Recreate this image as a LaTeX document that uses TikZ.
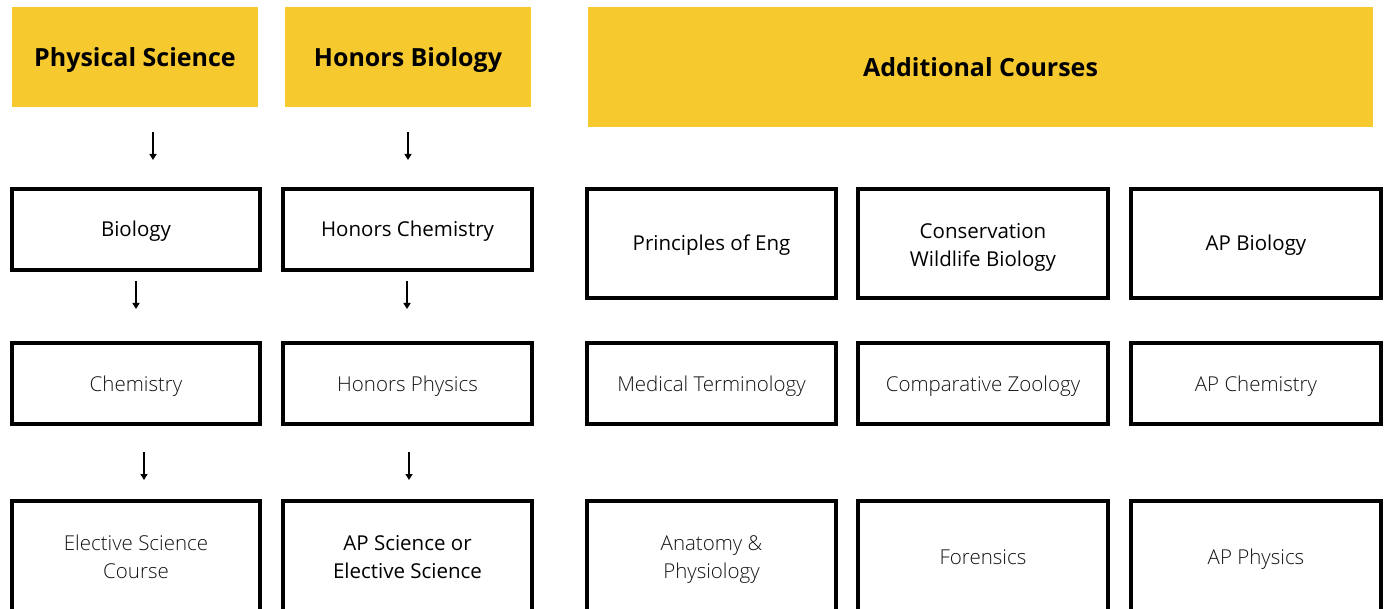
\documentclass[tikz,border=0pt]{standalone}
\usepackage{fontspec}
\setmainfont{Open Sans}
\newfontfamily\lightfont{Open Sans Light}
\usetikzlibrary{arrows.meta}
\definecolor{hdr}{RGB}{246,202,47}
\newcommand\bodystrut{\rule[-6pt]{0pt}{27pt}}
\newcommand\tallstrut{\rule[-6pt]{0pt}{30pt}}
\newcommand\lowstrut{\rule[-6pt]{0pt}{28pt}}
\newcommand\hdrstrut{\rule[-7pt]{0pt}{33pt}}
\tikzset{
  hdrbox/.style={fill=hdr, draw=none, inner sep=0pt, font=\fontsize{25}{30}\selectfont\bfseries,
    execute at begin node=\hdrstrut},
  crs/.style={draw=black, line width=4pt, fill=white, inner sep=0pt, align=center,
    font=\fontsize{20.5}{28.5}\selectfont,
    execute at begin node=\bodystrut, execute at end node=\bodystrut},
  lt/.style={font=\fontsize{20.5}{28.5}\selectfont\lightfont, text=black!92},
  arr/.style={line width=2pt, -{Triangle[width=7pt,length=6pt]}},
}
\begin{document}
\begin{tikzpicture}[x=1pt, y=-1pt]
\useasboundingbox (0,0) rectangle (1386,609);
% headers
\node[hdrbox, minimum width=246pt, minimum height=100pt] (ps) at (135,57) {Physical Science};
\node[hdrbox, minimum width=246pt, minimum height=100pt] (hb) at (408,57) {Honors Biology};
\node[hdrbox, minimum width=785pt, minimum height=120pt] (ac) at (980.5,67) {Additional Courses};
% left column 1
\node[crs, minimum width=248pt, minimum height=81pt] (bio) at (136,229.5) {Biology};
\node[crs, lt, minimum width=248pt, minimum height=81pt] (chem) at (136,383.5) {Chemistry};
\node[crs, lt, minimum width=248pt, minimum height=111pt] (elec) at (136,556.5) {\lowstrut Elective Science\\Course};
% left column 2
\node[crs, minimum width=249pt, minimum height=81pt] (hchem) at (407.5,229.5) {Honors Chemistry};
\node[crs, lt, minimum width=249pt, minimum height=81pt] (hphys) at (407.5,383.5) {Honors Physics};
\node[crs, minimum width=249pt, minimum height=111pt] (apsci) at (407.5,556.5) {\lowstrut AP Science or\\Elective Science};
% additional courses
\node[crs, minimum width=249pt, minimum height=109pt] (eng) at (711.5,243.5) {Principles of Eng};
\node[crs, minimum width=250pt, minimum height=109pt] (cons) at (983,243.5) {\tallstrut Conservation\\Wildlife Biology};
\node[crs, minimum width=250pt, minimum height=109pt] (apbio) at (1256,243.5) {AP Biology};
\node[crs, lt, minimum width=249pt, minimum height=81pt] (med) at (711.5,383.5) {Medical Terminology};
\node[crs, lt, minimum width=250pt, minimum height=81pt] (zoo) at (983,383.5) {Comparative Zoology};
\node[crs, lt, minimum width=250pt, minimum height=81pt] (apchem) at (1256,383.5) {AP Chemistry};
\node[crs, lt, minimum width=249pt, minimum height=111pt] (anat) at (711.5,556.5) {\lowstrut Anatomy \&\\Physiology};
\node[crs, lt, minimum width=250pt, minimum height=111pt] (foren) at (983,556.5) {Forensics};
\node[crs, lt, minimum width=250pt, minimum height=111pt] (apphys) at (1256,556.5) {AP Physics};
% arrow end points
\coordinate (a1s) at (153,132); \coordinate (a1e) at (153,160);
\coordinate (a2s) at (408,132); \coordinate (a2e) at (408,160);
\coordinate (a3s) at (136,281); \coordinate (a3e) at (136,309);
\coordinate (a4s) at (407,281); \coordinate (a4e) at (407,309);
\coordinate (a5s) at (144,452); \coordinate (a5e) at (144,480);
\coordinate (a6s) at (409,452); \coordinate (a6e) at (409,480);
\draw[arr] (a1s) -- (a1e);
\draw[arr] (a2s) -- (a2e);
\draw[arr] (a3s) -- (a3e);
\draw[arr] (a4s) -- (a4e);
\draw[arr] (a5s) -- (a5e);
\draw[arr] (a6s) -- (a6e);
\end{tikzpicture}
\end{document}
